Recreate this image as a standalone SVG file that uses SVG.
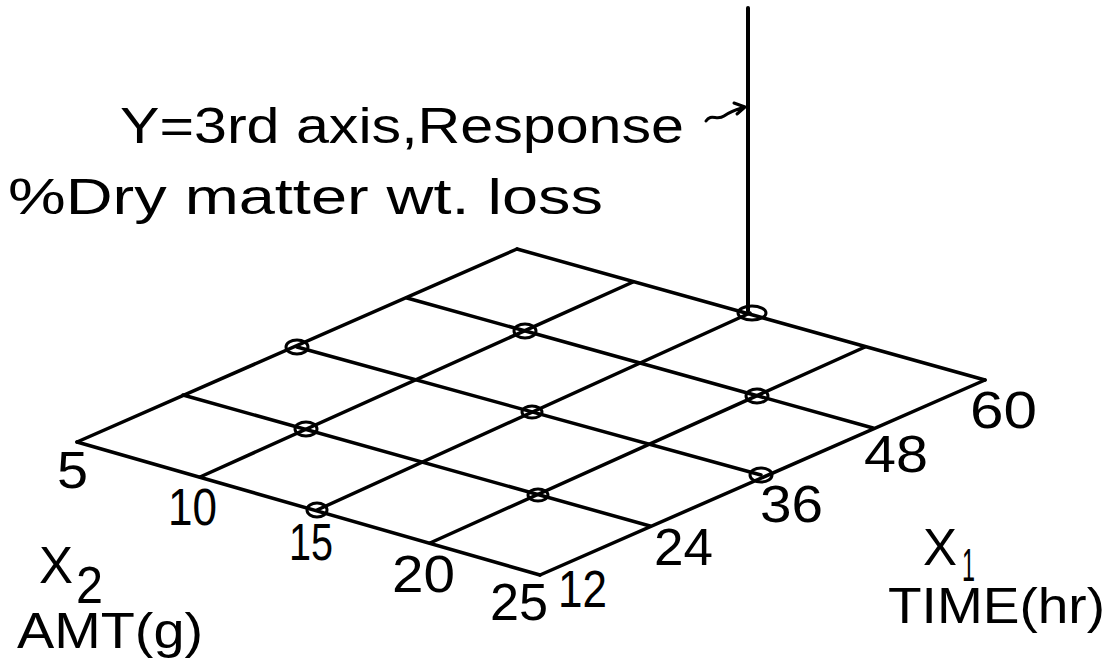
<svg xmlns="http://www.w3.org/2000/svg" width="1117" height="662" viewBox="0 0 1117 662">
<style>
.ln{stroke:#000;stroke-width:3.5;fill:none;stroke-linecap:round}
.pt{stroke:#000;stroke-width:3;fill:none}
.t{font-family:"Liberation Sans",Arial,sans-serif;fill:#000;font-size:50px}
.n{font-family:"Liberation Sans",Arial,sans-serif;fill:#000;font-size:52px}
</style>
<rect width="1117" height="662" fill="#fff"/>
<g id="connectors">
<line class="ln" x1="77" y1="442" x2="517" y2="249"/>
<line class="ln" x1="200" y1="477" x2="633" y2="282"/>
<line class="ln" x1="317" y1="510" x2="750" y2="313"/>
<line class="ln" x1="430" y1="543" x2="865" y2="347"/>
<line class="ln" x1="540" y1="575" x2="985" y2="380"/>
<line class="ln" x1="77" y1="442" x2="540" y2="575"/>
<line class="ln" x1="183" y1="395" x2="650" y2="526"/>
<line class="ln" x1="297" y1="347" x2="761" y2="475"/>
<line class="ln" x1="407" y1="298" x2="873" y2="428"/>
<line class="ln" x1="517" y1="249" x2="985" y2="380"/>
<line class="ln" x1="748" y1="8" x2="748" y2="311" style="stroke-width:4"/>
<path class="ln" style="stroke-width:3" d="M706,121 C711,113 717,121 724,116 C731,111 738,109 745,107 M745,107 L734,103 M745,107 L737,114"/>
</g>
<g id="points">
<ellipse class="pt" cx="297" cy="347" rx="11" ry="7"/>
<ellipse class="pt" cx="306" cy="429" rx="11" ry="7"/>
<ellipse class="pt" cx="317" cy="510" rx="10" ry="7"/>
<ellipse class="pt" cx="525" cy="331" rx="11" ry="7"/>
<ellipse class="pt" cx="532" cy="412" rx="10" ry="6"/>
<ellipse class="pt" cx="538" cy="495" rx="10" ry="6"/>
<ellipse class="pt" cx="752" cy="313" rx="14" ry="7"/>
<ellipse class="pt" cx="757" cy="396" rx="11" ry="7"/>
<ellipse class="pt" cx="761" cy="475" rx="11" ry="7"/>
</g>
<g id="title">
<text class="t" x="120" y="143" textLength="564" lengthAdjust="spacingAndGlyphs">Y=3rd  axis,Response</text>
<text class="t" x="8" y="214" textLength="595" lengthAdjust="spacingAndGlyphs">%Dry matter wt.  loss</text>
</g>
<g id="x2-axis">
<text class="n" x="57" y="488" textLength="31" lengthAdjust="spacingAndGlyphs">5</text>
<text class="n" x="168" y="525" textLength="49" lengthAdjust="spacingAndGlyphs">10</text>
<text class="n" x="289" y="560" textLength="44" lengthAdjust="spacingAndGlyphs">15</text>
<text class="n" x="392" y="592" textLength="63" lengthAdjust="spacingAndGlyphs">20</text>
<text class="n" x="490" y="620" textLength="58" lengthAdjust="spacingAndGlyphs">25</text>
<text class="n" x="39" y="583" textLength="34" lengthAdjust="spacingAndGlyphs">X</text>
<text class="n" x="76" y="603" textLength="27" lengthAdjust="spacingAndGlyphs">2</text>
<text class="t" x="17" y="648" textLength="186" lengthAdjust="spacingAndGlyphs">AMT(g)</text>
</g>
<g id="x1-axis">
<text class="n" x="558" y="607" textLength="49" lengthAdjust="spacingAndGlyphs">12</text>
<text class="n" x="654" y="565" textLength="59" lengthAdjust="spacingAndGlyphs">24</text>
<text class="n" x="760" y="522" textLength="63" lengthAdjust="spacingAndGlyphs">36</text>
<text class="n" x="864" y="472" textLength="64" lengthAdjust="spacingAndGlyphs">48</text>
<text class="n" x="970" y="428" textLength="67" lengthAdjust="spacingAndGlyphs">60</text>
<text class="n" x="923" y="565" textLength="34" lengthAdjust="spacingAndGlyphs">X</text>
<text class="n" x="962" y="581" textLength="13" lengthAdjust="spacingAndGlyphs" style="font-size:46px">1</text>
<text class="t" x="888" y="623" textLength="217" lengthAdjust="spacingAndGlyphs">TIME(hr)</text>
</g>
</svg>
